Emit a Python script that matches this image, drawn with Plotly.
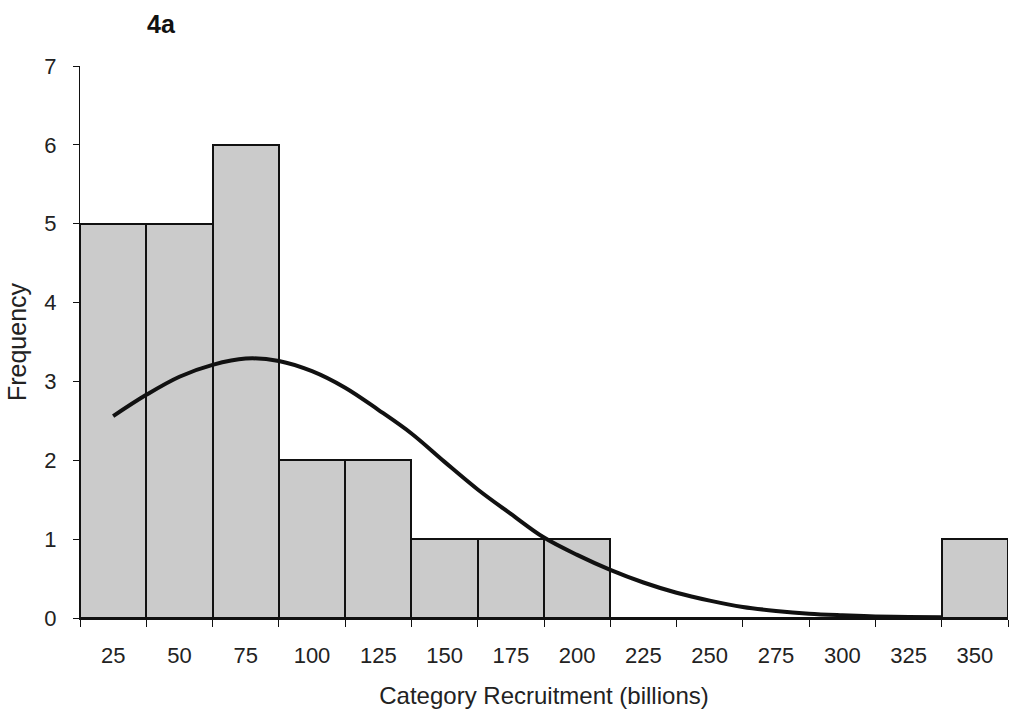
import plotly.graph_objects as go

# Histogram categories (billions) and frequencies
categories = [25, 50, 75, 100, 125, 150, 175, 200, 225, 250, 275, 300, 325, 350]
frequency = [5, 5, 6, 2, 2, 1, 1, 1, 0, 0, 0, 0, 0, 1]
tick_labels = [str(c) for c in categories]
boundaries = [12.5 + 25 * i for i in range(15)]

# Fitted curve
curve_x = [25, 37.5, 50, 62.5, 75, 87.5, 100, 112.5, 125, 137.5, 150, 162.5, 175,
           187.5, 200, 212.5, 225, 237.5, 250, 262.5, 275, 287.5, 300, 312.5, 325, 337.5]
curve_y = [2.56, 2.83, 3.06, 3.21, 3.29, 3.26, 3.13, 2.92, 2.64, 2.34, 1.98, 1.63, 1.32,
           1.02, 0.80, 0.61, 0.45, 0.32, 0.22, 0.14, 0.09, 0.055, 0.035, 0.02, 0.012, 0.008]

FONT = "Liberation Sans, Arial, sans-serif"

fig = go.Figure()
fig.add_trace(go.Bar(
    x=categories, y=frequency, width=25,
    marker=dict(
        color="#cbcbcb",
        line=dict(color="#111111", width=2),
    ),
    showlegend=False, hoverinfo="skip",
))
fig.add_trace(go.Scatter(
    x=curve_x, y=curve_y, mode="lines",
    line=dict(color="#111111", width=4, shape="spline", smoothing=1.0),
    showlegend=False, hoverinfo="skip",
))

fig.update_layout(
    width=1014, height=716,
    margin=dict(l=80, r=6, t=66, b=98),
    paper_bgcolor="white", plot_bgcolor="white",
    font=dict(family=FONT, size=22, color="#222222"),
    bargap=0,
    title=dict(text="<b>4a</b>", x=161 / 1014, xanchor="center", xref="container",
               y=1 - 24 / 716, yanchor="middle", yref="container",
               font=dict(family=FONT, size=25, color="#111111")),
    xaxis=dict(
        range=[12.5, 362.5], tickmode="array", tickvals=categories, ticktext=tick_labels,
        ticks="", showgrid=False, zeroline=False,
        showline=True, linecolor="#111111", linewidth=1.5,
        ticklabelstandoff=17,
        tickfont=dict(family=FONT, size=22, color="#222222"),
        minor=dict(tickmode="array", tickvals=boundaries, ticks="outside",
                   ticklen=7, tickcolor="#111111", tickwidth=1, showgrid=False),
        title=dict(text="Category Recruitment (billions)", standoff=20,
                   font=dict(family=FONT, size=24, color="#222222")),
    ),
    yaxis=dict(
        range=[0, 7], tickmode="array", tickvals=list(range(8)),
        ticks="outside", ticklen=6, tickcolor="#111111", tickwidth=1,
        showgrid=False, zeroline=False,
        showline=True, linecolor="#111111", linewidth=1,
        ticklabelstandoff=12,
        tickfont=dict(family=FONT, size=22, color="#222222"),
        title=dict(text="Frequency", standoff=10,
                   font=dict(family=FONT, size=25, color="#222222")),
    ),
)

fig.write_html("out.html")
